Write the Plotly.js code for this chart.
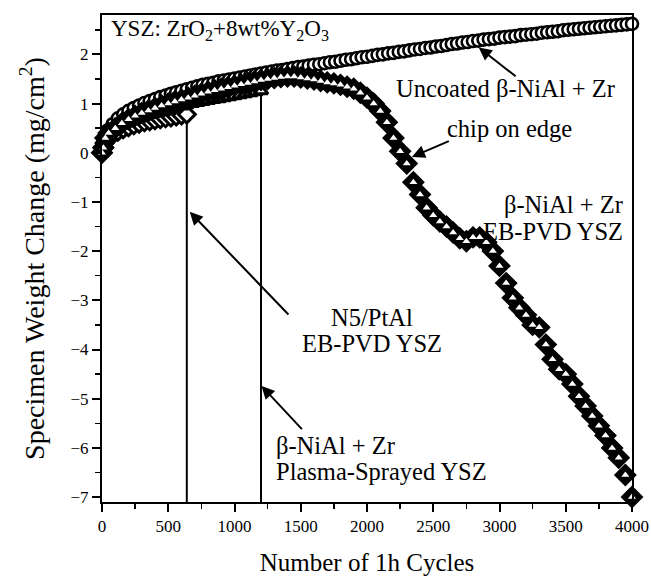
<!DOCTYPE html>
<html>
<head>
<meta charset="utf-8">
<script src="https://cdn.plot.ly/plotly-3.0.1.min.js"></script>
<style>html,body{margin:0;padding:0;background:#fff;}#chart{width:651px;height:576px;}</style>
</head>
<body>
<div id="chart"></div>
<script>
// Uncoated beta-NiAl + Zr (open circles)
const cyclesA = [0,10,20,40,80,120,160,200,240,280,320,360,400,440,480,520,560,600,640,680,720,760,800,840,880,920,960,1000,1040,1080,1120,1160,1200,1240,1280,1320,1360,1400,1440,1480,1520,1560,1600,1640,1680,1720,1760,1800,1840,1880,1920,1960,2000,2040,2080,2120,2160,2200,2240,2280,2320,2360,2400,2440,2480,2520,2560,2600,2640,2680,2720,2760,2800,2840,2880,2920,2960,3000,3040,3080,3120,3160,3200,3240,3280,3320,3360,3400,3440,3480,3520,3560,3600,3640,3680,3720,3760,3800,3840,3880,3920,3960,4000];
const weightA = [0.0,0.22,0.33,0.45,0.58,0.70,0.78,0.85,0.91,0.96,1.01,1.05,1.09,1.13,1.16,1.20,1.23,1.26,1.29,1.32,1.35,1.38,1.40,1.42,1.45,1.47,1.49,1.51,1.53,1.55,1.57,1.59,1.61,1.63,1.65,1.67,1.68,1.70,1.72,1.74,1.75,1.77,1.79,1.80,1.82,1.84,1.85,1.87,1.89,1.90,1.92,1.94,1.95,1.97,1.99,2.00,2.02,2.03,2.05,2.06,2.08,2.10,2.11,2.13,2.14,2.16,2.17,2.19,2.21,2.22,2.24,2.25,2.27,2.28,2.30,2.31,2.32,2.34,2.35,2.36,2.37,2.39,2.40,2.41,2.42,2.44,2.45,2.46,2.47,2.49,2.50,2.51,2.52,2.53,2.54,2.55,2.56,2.57,2.58,2.59,2.60,2.61,2.62];

// beta-NiAl + Zr, EB-PVD YSZ (diamonds)
const cyclesB = [0,10,25,50,100,150,200,250,300,350,400,450,500,550,600,650,700,750,800,850,900,950,1000,1050,1100,1150,1200,1250,1300,1350,1400,1450,1500,1550,1600,1650,1700,1750,1800,1850,1900,1950,2000,2050,2100,2150,2200,2250,2300,2350,2400,2450,2500,2550,2600,2650,2700,2750,2800,2850,2900,2950,3000,3050,3100,3150,3200,3250,3300,3350,3400,3450,3500,3550,3600,3650,3700,3750,3800,3850,3900,3950,4000];
const weightB = [0,0.10,0.30,0.40,0.50,0.60,0.68,0.75,0.81,0.86,0.91,0.96,1.00,1.04,1.08,1.12,1.16,1.20,1.24,1.27,1.30,1.33,1.36,1.39,1.42,1.45,1.48,1.50,1.52,1.54,1.55,1.55,1.53,1.51,1.49,1.46,1.43,1.41,1.38,1.34,1.30,1.22,1.12,1.00,0.85,0.62,0.30,0.03,-0.22,-0.60,-0.85,-1.12,-1.27,-1.40,-1.50,-1.62,-1.74,-1.80,-1.72,-1.72,-1.82,-2.00,-2.30,-2.65,-2.95,-3.15,-3.30,-3.50,-3.55,-3.90,-4.20,-4.40,-4.50,-4.70,-4.95,-5.15,-5.35,-5.55,-5.75,-6.00,-6.20,-6.55,-7.00];

// N5/PtAl, EB-PVD YSZ
const cyclesC = [0,10,20,40,80,120,160,200,240,280,320,360,400,440,480,520,560,600,640];
const weightC = [0,0.12,0.20,0.28,0.36,0.43,0.48,0.52,0.56,0.59,0.62,0.64,0.66,0.68,0.70,0.72,0.74,0.76,0.78];

// beta-NiAl + Zr, Plasma-Sprayed YSZ
const cyclesD = [0,10,20,40,80,120,160,200,240,280,320,360,400,440,480,520,560,600,640,680,720,760,800,840,880,920,960,1000,1040,1080,1120,1160,1200];
const weightD = [0,0.15,0.25,0.33,0.43,0.50,0.56,0.61,0.66,0.70,0.74,0.78,0.81,0.84,0.87,0.90,0.93,0.95,0.98,1.00,1.02,1.04,1.06,1.08,1.10,1.12,1.14,1.16,1.18,1.20,1.22,1.24,1.26];

const xRange = [0, 4000];
const yRange = [-7.1, 2.8];
const xTicks = [0,500,1000,1500,2000,2500,3000,3500,4000];
const yTicks = [-7,-6,-5,-4,-3,-2,-1,0,1,2];

const serif = '"Liberation Serif", "DejaVu Serif", serif';
const mk = (symbol, size, lw, fill) => ({symbol: symbol, size: size, color: fill || '#fff', line: {color: '#000', width: lw}});

const lastC = cyclesC.length - 1, lastD = cyclesD.length - 1;
const traces = [
  {x: [cyclesC[lastC], cyclesC[lastC]], y: [weightC[lastC], yRange[0]], mode: 'lines', line: {color: '#000', width: 2}, hoverinfo: 'skip'},
  {x: [cyclesD[lastD], cyclesD[lastD]], y: [weightD[lastD], yRange[0]], mode: 'lines', line: {color: '#000', width: 2}, hoverinfo: 'skip'},
  {x: cyclesC, y: weightC, mode: 'markers', marker: mk('diamond', 13, 3), cliponaxis: false},
  {x: cyclesD, y: weightD, mode: 'markers', marker: mk('triangle-up', 12, 3), cliponaxis: false},
  {x: cyclesA, y: weightA, mode: 'markers', marker: mk('circle', 12, 2.6), cliponaxis: false},
  {x: cyclesB, y: weightB, mode: 'markers', marker: mk('diamond', 16, 1.5, '#000'), cliponaxis: false},
  {x: cyclesB, y: weightB, mode: 'markers', marker: {symbol: 'triangle-up', size: 7, color: '#fff', line: {width: 0}}, cliponaxis: false}
];

const FS = 24.5;
const txt = (text, x, y, xanchor, size) => ({text: text, x: x, y: y, xref: 'x', yref: 'y', xanchor: xanchor, yanchor: 'middle', align: xanchor, showarrow: false, font: {family: serif, size: size || FS, color: '#000'}});
const arr = (x, y, ax, ay) => ({text: '', x: x, y: y, ax: ax, ay: ay, xref: 'x', yref: 'y', axref: 'x', ayref: 'y', showarrow: true, arrowhead: 2, arrowsize: 1.3, arrowwidth: 2, arrowcolor: '#000'});

const annotations = [
  txt('YSZ: ZrO<sub>2</sub>+8wt%Y<sub>2</sub>O<sub>3</sub>', 50, 2.5, 'left', 23),
  txt('Uncoated β-NiAl + Zr', 3048, 1.31, 'center'),
  txt('chip on edge', 3075, 0.5, 'center'),
  txt('β-NiAl + Zr', 3945, -1.06, 'right'),
  txt('EB-PVD YSZ', 3945, -1.61, 'right'),
  txt('N5/PtAl', 2040, -3.35, 'center'),
  txt('EB-PVD YSZ', 2040, -3.88, 'center'),
  txt('β-NiAl + Zr', 1300, -5.96, 'left'),
  txt('Plasma-Sprayed YSZ', 1300, -6.47, 'left'),
  arr(2843, 2.14, 3133, 1.53),
  arr(2339, -0.085, 2629, 0.25),
  arr(662, -1.20, 1418, -3.32),
  arr(1204, -4.74, 1519, -5.65)
];

const axisCommon = {showline: true, linewidth: 2, linecolor: '#000', mirror: true, showgrid: false, zeroline: false, ticks: 'outside', ticklen: 8, tickwidth: 2, tickcolor: '#000', tickfont: {family: serif, size: 17, color: '#000'}};

const layout = {
  width: 651, height: 576,
  margin: {l: 102, r: 19, t: 15, b: 74},
  paper_bgcolor: '#fff', plot_bgcolor: '#fff',
  showlegend: false,
  xaxis: Object.assign({}, axisCommon, {range: xRange, tickvals: xTicks, minor: {dtick: 250, ticks: 'outside', ticklen: 5, tickwidth: 1.5, tickcolor: '#000'}, title: {text: 'Number of 1h Cycles', font: {family: serif, size: 25, color: '#000'}, standoff: 18}}),
  yaxis: Object.assign({}, axisCommon, {range: yRange, tickvals: yTicks, minor: {dtick: 0.5, ticks: 'outside', ticklen: 5, tickwidth: 1.5, tickcolor: '#000'}, title: {text: 'Specimen Weight Change (mg/cm<sup>2</sup>)', font: {family: serif, size: 28, color: '#000'}, standoff: 18}}),
  annotations: annotations
};

Plotly.newPlot('chart', traces, layout, {displayModeBar: false, staticPlot: true});
</script>
</body>
</html>
